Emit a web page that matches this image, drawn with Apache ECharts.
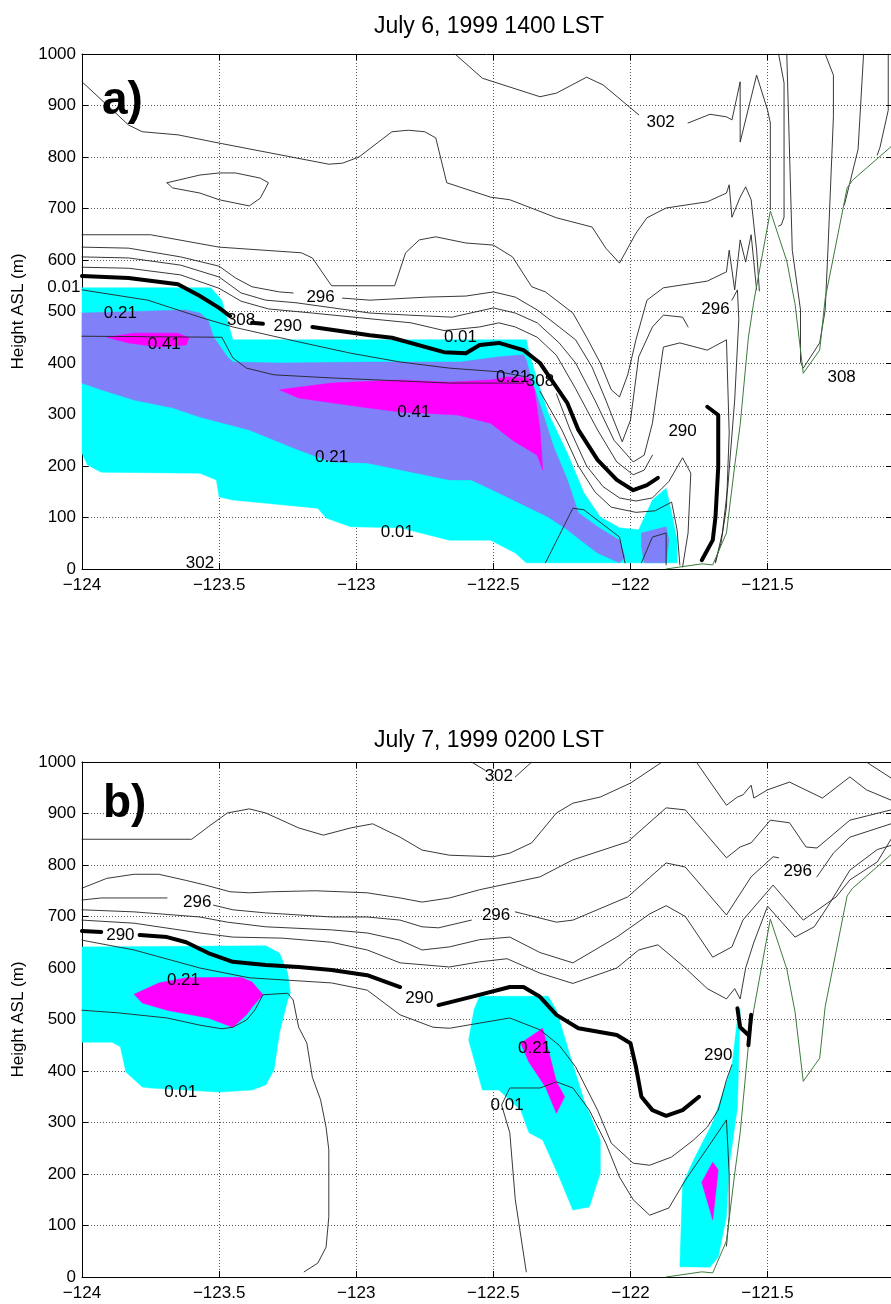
<!DOCTYPE html>
<html>
<head>
<meta charset="utf-8">
<script src="https://cdn.jsdelivr.net/npm/echarts@6/dist/echarts.min.js"></script>
<style>
html,body{margin:0;padding:0;background:#fff;}
#chart{width:891px;height:1304px;}
</style>
</head>
<body>
<div id="chart"></div>
<script>
// ---------------- DATA (longitude, height ASL in m) ----------------
var titles = ['July 6, 1999 1400 LST', 'July 7, 1999 0200 LST'];
var panelTags = ['a)', 'b)'];
var xTicks = [-124, -123.5, -123, -122.5, -122, -121.5];
var yTicks = [0, 100, 200, 300, 400, 500, 600, 700, 800, 900, 1000];

// terrain profile (same cross-section in both panels)
var terrain = [[-121.87,0],[-121.74,10],[-121.70,8],[-121.65,70],[-121.62,200],[-121.60,280],[-121.57,450],[-121.55,520],[-121.49,695],[-121.43,598],[-121.40,515],[-121.37,380],[-121.31,425],[-121.29,525],[-121.21,740],[-121.19,755],[-121.05,820]];

// ---- panel a: filled regions ----
var aCyan = [[-124.00,546],[-123.53,546],[-123.49,522],[-123.45,445],[-122.38,445],[-122.37,421],[-122.34,367],[-122.30,303],[-122.23,225],[-122.17,148],[-122.11,101],[-122.04,80],[-121.97,76],[-121.92,134],[-121.87,157],[-121.85,109],[-121.83,56],[-121.83,12],[-122.38,12],[-122.42,31],[-122.51,56],[-122.66,56],[-122.84,80],[-123.02,82],[-123.11,99],[-123.14,118],[-123.45,134],[-123.50,140],[-123.51,173],[-123.57,186],[-123.93,188],[-123.98,202],[-124.00,225]];
var aPurple = [[-124.00,497],[-123.62,503],[-123.57,497],[-123.54,483],[-123.52,450],[-123.47,412],[-123.45,402],[-123.28,400],[-122.95,402],[-122.62,402],[-122.48,412],[-122.39,416],[-122.38,406],[-122.36,367],[-122.32,303],[-122.28,237],[-122.23,173],[-122.19,109],[-122.12,82],[-122.04,56],[-122.02,23],[-122.04,12],[-122.12,31],[-122.16,47],[-122.23,76],[-122.30,101],[-122.45,140],[-122.58,173],[-122.66,173],[-122.96,206],[-123.09,208],[-123.21,231],[-123.39,270],[-123.57,295],[-123.67,313],[-123.81,328],[-123.93,348],[-124.00,361]];
var aPurple2 = [[-121.96,43],[-121.96,70],[-121.87,82],[-121.86,56],[-121.87,12],[-121.95,12]];
var aMag1 = [[-123.91,450],[-123.81,458],[-123.65,458],[-123.61,449],[-123.62,435],[-123.72,431],[-123.83,439]];
var aMag2 = [[-123.28,348],[-123.09,361],[-122.84,367],[-122.66,363],[-122.51,367],[-122.45,373],[-122.37,371],[-122.35,348],[-122.33,270],[-122.32,192],[-122.34,221],[-122.43,250],[-122.51,283],[-122.63,299],[-122.84,305],[-122.96,313],[-123.21,332]];

// ---- panel a: contour lines (null = break for a label) ----
var a302 = [[-122.64,1000],[-122.54,953],[-122.33,917],[-122.27,924],[-122.16,955],[-122.10,940],[-121.97,882],null,[-121.79,866],[-121.71,883],[-121.65,878],[-121.63,872],[-121.60,946],[-121.60,829],[-121.54,959],[-121.50,891],[-121.49,866],[-121.49,698]];
var aT1 = [[-124.00,946],[-123.83,862],[-123.78,849],[-123.65,843],[-123.50,827],[-123.10,786],[-123.05,788],[-122.99,800],[-122.87,849],[-122.81,852],[-122.75,849],[-122.71,837],[-122.67,750],[-122.51,722],[-122.44,717],[-122.27,682],[-122.14,664],[-122.09,623],[-122.04,594],[-121.98,652],[-121.94,682],[-121.87,701],[-121.72,713],[-121.65,730],[-121.64,746],[-121.63,683],[-121.60,722],[-121.58,742],[-121.56,717],[-121.54,619],[-121.53,540]];
var aLoop = [[-123.69,750],[-123.67,740],[-123.57,730],[-123.50,717],[-123.39,705],[-123.35,720],[-123.33,740],[-123.32,750],[-123.35,759],[-123.44,769],[-123.50,769],[-123.57,765],[-123.69,750]];
var aTA = [[-124.00,649],[-123.75,649],[-123.50,625],[-123.20,614],[-123.16,604],[-123.09,550],[-122.86,550],[-122.82,614],[-122.77,639],[-122.71,645],[-122.60,633],[-122.50,629],[-122.43,606],[-122.36,548],[-122.31,538],[-122.21,497],[-122.16,450],[-122.11,400],[-122.07,348],[-122.04,334],[-122.01,377],[-121.98,445],[-121.94,522],[-121.88,546],[-121.72,559],[-121.65,577],[-121.64,619],[-121.62,542],[-121.60,639],[-121.58,596],[-121.56,649],[-121.54,542]];
var aTB = [[-124.00,625],[-123.83,623],[-123.64,606],[-123.50,588],[-123.44,565],[-123.38,548],[-123.28,538],[-123.23,536],null,[-123.05,526],[-122.95,522],[-122.74,528],[-122.60,530],[-122.50,538],[-122.42,528],[-122.34,503],[-122.26,470],[-122.20,445],[-122.14,392],[-122.09,328],[-122.03,247],[-122.00,289],[-121.97,412],[-121.92,470],[-121.88,493],[-121.81,489],[-121.79,470]];
var a296b = [[-121.63,522],[-121.61,542],[-121.605,484],[-121.62,328],[-121.645,160],[-121.665,70],[-121.69,12]];
var aTC = [[-124.00,606],[-123.83,604],[-123.64,590],[-123.50,567],[-123.42,536],[-123.33,522],[-123.22,517],[-122.95,497],[-122.81,493],[-122.65,489],[-122.50,507],[-122.42,497],[-122.34,478],[-122.26,439],[-122.20,400],[-122.13,328],[-122.06,250],[-121.99,208],[-121.95,221],[-121.92,283],[-121.88,431],[-121.82,439],[-121.72,425],[-121.65,445],[-121.64,264],[-121.65,120],[-121.67,50],[-121.69,15]];
var aTD = [[-124.00,586],[-123.83,584],[-123.64,571],[-123.50,545],[-123.42,520],[-123.32,505],[-123.16,497],[-122.99,488],[-122.80,478],[-122.68,463],[-122.55,470],[-122.48,478],[-122.42,470],[-122.34,450],[-122.27,415],[-122.20,350],[-122.12,270],[-122.05,208],[-121.99,183],[-121.95,192],[-121.92,221]];
var aTE = [[-124.00,542],[-123.76,522],[-123.57,489],[-123.45,470],[-123.21,441],[-123.02,419],[-122.84,402],[-122.66,390],[-122.48,383],[-122.38,373],null,[-122.27,340],[-122.22,270],[-122.16,200],[-122.10,160],[-122.04,138],[-121.98,132],[-121.92,138],[-121.86,170],[-121.81,216],[-121.78,186],[-121.79,70],[-121.81,4]];
var aTF = [[-122.33,345],[-122.25,270],[-122.19,200],[-122.13,150],[-122.07,120],[-121.98,110],[-121.91,113],[-121.85,130],[-121.83,76],[-121.82,8]];
var aTG = [[-124.00,452],[-123.49,450],[-123.45,410],[-123.40,390],[-123.30,377],[-123.09,371],[-122.66,361],[-122.39,361]];
var aArch1 = [[-122.31,12],[-122.21,118],[-122.17,115],[-122.04,62],[-122.02,12]];
var aArch2 = [[-121.96,12],[-121.92,62],[-121.87,70],[-121.87,8]];
var aR1 = [[-121.46,1000],[-121.44,944],[-121.44,683],[-121.45,668],[-121.46,666]];
var aR2 = [[-121.43,1000],[-121.41,619],[-121.38,503],[-121.38,402],[-121.37,390],[-121.31,439],[-121.29,503],[-121.28,619],[-121.26,878],[-121.26,959],[-121.29,1000]];
var aR4 = [[-121.15,1000],[-121.17,815],[-121.20,750],[-121.22,707]];
var aR5 = [[-121.06,1000],[-121.06,891],[-121.09,819],[-121.10,804]];
var aThick = [[-124.00,569],[-123.83,565],[-123.65,553],[-123.57,530],[-123.50,507],[-123.46,491],null,[-123.38,478],[-123.34,476],null,[-123.16,470],[-122.95,454],[-122.87,449],[-122.68,421],[-122.60,419],[-122.55,435],[-122.48,439],[-122.39,425],[-122.33,400],[-122.28,361],[-122.23,322],[-122.19,270],[-122.12,212],[-122.05,173],[-121.99,153],[-121.94,163],[-121.90,177],null,[-121.72,315],[-121.68,299],[-121.68,264],[-121.68,198],[-121.69,101],[-121.70,56],[-121.74,17]];
var aLabels = [['302',-121.89,868],['296',-123.13,528],['290',-123.25,472],['308',-123.42,483],['0.01',-122.62,449],['0.21',-122.43,373],['308',-122.33,365],['0.21',-123.86,497],['0.41',-123.70,437],['0.41',-122.79,305],['0.21',-123.09,216],['0.01',-122.85,72],['302',-123.57,12],['296',-121.69,504],['290',-121.81,268],['308',-121.23,373],['0.01',-124.066,546]];

// ---- panel b: filled regions ----
var bCyan1 = [[-124.00,641],[-123.33,643],[-123.28,629],[-123.25,590],[-123.24,551],[-123.25,538],[-123.28,474],[-123.30,402],[-123.33,373],[-123.38,363],[-123.50,359],[-123.75,367],[-123.78,369],[-123.84,398],[-123.86,447],[-123.89,456],[-124.00,456]];
var bMag1 = [[-123.81,549],[-123.72,571],[-123.62,581],[-123.42,582],[-123.38,573],[-123.34,548],[-123.38,524],[-123.40,509],[-123.45,485],[-123.47,489],[-123.54,503],[-123.69,518],[-123.78,532]];
var bCyan2 = [[-122.55,545],[-122.30,545],[-122.27,518],[-122.23,447],[-122.17,344],[-122.11,266],[-122.11,202],[-122.15,136],[-122.21,130],[-122.26,194],[-122.32,266],[-122.37,280],[-122.40,324],[-122.48,363],[-122.54,363],[-122.56,402],[-122.59,460],[-122.57,520]];
var bMag2 = [[-122.40,454],[-122.32,483],[-122.27,379],[-122.24,350],[-122.27,318],[-122.31,369],[-122.37,417]];
var bCyan3 = [[-121.82,20],[-121.81,180],[-121.77,227],[-121.70,300],[-121.63,410],[-121.61,500],[-121.60,520],[-121.61,330],[-121.64,214],[-121.65,117],[-121.68,39],[-121.71,19]];
var bMag3 = [[-121.70,223],[-121.68,208],[-121.70,111],[-121.74,184]];

// ---- panel b: contour lines ----
var b302 = [[-122.58,1000],[-122.53,984],null,[-122.42,971],[-122.36,1000]];
var bB1 = [[-124.00,850],[-123.60,850],[-123.54,874],[-123.47,901],[-123.39,909],[-123.33,901],[-123.21,872],[-123.12,858],[-123.02,872],[-122.94,880],[-122.84,854],[-122.76,829],[-122.66,819],[-122.50,816],[-122.44,823],[-122.36,843],[-122.27,901],[-122.21,920],[-122.11,932],[-122.00,959],[-121.89,998]];
var bTR1 = [[-121.76,1000],[-121.65,916],[-121.61,932],[-121.59,936],[-121.56,955],[-121.55,930],[-121.50,946],[-121.42,961],[-121.30,930],[-121.20,971],[-121.14,946],[-121.05,926]];
var bTR2 = [[-121.14,1000],[-121.05,969]];
var bB2 = [[-124.00,755],[-123.91,774],[-123.81,782],[-123.72,782],[-123.62,770],[-123.55,761],[-123.46,748],[-123.39,746],[-123.31,748],[-123.15,750],[-122.96,746],[-122.84,736],[-122.76,728],[-122.66,736],[-122.55,752],[-122.33,777],[-122.21,810],[-122.01,845],[-121.87,911],[-121.80,907],[-121.65,814],[-121.60,835],[-121.56,843],[-121.49,887],[-121.42,882],[-121.36,835],[-121.32,833],[-121.20,887],[-121.05,907]];
var bB3 = [[-124.00,732],[-123.93,736],[-123.69,736],null,[-123.52,722],[-123.45,713],[-123.33,707],[-123.09,699],[-122.96,699],[-122.84,693],[-122.76,680],[-122.70,678],[-122.58,693],null,[-122.42,709],[-122.27,689],[-122.21,693],[-122.01,738],[-121.87,804],[-121.80,796],[-121.65,703],[-121.56,777],[-121.48,816],[-121.46,814],null,[-121.32,777],[-121.26,823],[-121.20,854],[-121.05,880]];
var bB4 = [[-124.00,713],[-123.81,709],[-123.57,699],[-123.47,689],[-123.33,680],[-123.09,674],[-122.96,668],[-122.84,654],[-122.76,635],[-122.66,641],[-122.55,655],[-122.44,660],[-122.33,630],[-122.21,610],[-122.05,660],[-121.93,705],[-121.87,721],[-121.80,700],[-121.70,621],[-121.63,641],[-121.59,693],[-121.48,761],[-121.37,693],[-121.25,738],[-121.20,771],[-121.10,806],[-121.05,850]];
var bB5 = [[-124.00,693],[-123.81,687],[-123.57,668],[-123.45,660],[-123.27,658],[-123.09,650],[-122.96,635],[-122.84,610],[-122.66,602],[-122.55,612],[-122.45,618],[-122.33,590],[-122.21,570],[-122.05,600],[-121.97,635],[-121.90,645],[-121.80,600],[-121.72,560],[-121.65,540],[-121.62,560],[-121.60,540],[-121.58,600],[-121.55,650],[-121.50,720],[-121.45,690],[-121.40,660],[-121.33,680],[-121.28,720],[-121.20,790],[-121.10,830],[-121.05,838]];
var bB6 = [[-124.00,654],[-123.81,635],[-123.57,600],[-123.39,581],[-123.27,577],[-123.09,571],[-122.96,557],[-122.84,509],[-122.72,485],[-122.66,483],[-122.55,493],[-122.44,503],[-122.33,480],[-122.26,450],[-122.20,408],[-122.12,324],[-122.07,260],[-121.99,221],[-121.93,217],[-121.85,233],[-121.77,266],[-121.72,291],[-121.68,324],[-121.65,383],[-121.63,412]];
var bV2 = [[-122.38,10],[-122.42,150],[-122.44,280],[-122.47,334],[-122.44,367],[-122.33,367],[-122.27,379],[-122.21,367],[-122.15,324],[-122.09,260],[-122.04,194],[-121.99,150],[-121.93,120],[-121.86,134],[-121.80,188],[-121.72,250],[-121.65,305],[-121.64,200],[-121.64,117],[-121.65,60]];
var bB7 = [[-124.00,518],[-123.87,513],[-123.69,503],[-123.57,489],[-123.49,482],[-123.45,485],[-123.40,499],[-123.37,518],[-123.34,548],[-123.25,551],[-123.23,538],[-123.21,485],[-123.18,454],[-123.16,388],[-123.13,344],[-123.11,291],[-123.10,247],[-123.10,183],[-123.10,117],[-123.11,58],[-123.14,27],[-123.19,10]];
var bThick = [[-124.00,672],[-123.93,670],null,[-123.79,664],[-123.69,660],[-123.62,650],[-123.54,629],[-123.45,612],[-123.33,606],[-123.21,602],[-123.09,596],[-122.96,586],[-122.84,563],null,[-122.70,528],[-122.58,544],[-122.44,563],[-122.39,563],[-122.33,544],[-122.27,509],[-122.19,483],[-122.05,470],[-122.00,454],[-121.98,408],[-121.96,350],[-121.92,324],[-121.87,313],[-121.81,324],[-121.75,350],null,[-121.61,522],[-121.60,485],[-121.57,470],null,[-121.56,509],[-121.57,450]];
var bLabels = [['302',-122.48,973],['296',-123.58,728],['296',-122.49,703],['296',-121.39,788],['290',-123.86,664],['290',-122.77,542],['290',-121.68,431],['0.21',-123.63,577],['0.01',-123.64,359],['0.21',-122.35,445],['0.01',-122.45,334]];

// ---------------- CHART ----------------
var FONT = 'Liberation Sans, Arial, Helvetica, sans-serif';
var chart = echarts.init(document.getElementById('chart'), null, {renderer: 'canvas'});
var grids = [{left: 82, right: 0, top: 54, height: 515}, {left: 82, right: 0, top: 762, height: 515}];
var xAxes = [], yAxes = [], series = [];

function fmtX(v) {
  if (Math.abs(v * 2 - Math.round(v * 2)) > 1e-6) return '';
  return (v < 0 ? '\u2212' : '') + Math.abs(v);
}
function fmtY(v) { return String(v); }
grids.forEach(function (g, gi) {
  xAxes.push({gridIndex: gi, type: 'value', min: -124, max: -121.05, interval: 0.5, position: 'bottom',
    axisLine: {show: true, onZero: false, lineStyle: {color: '#000', width: 1}},
    axisTick: {show: true, inside: true, length: 6, lineStyle: {color: '#000'}},
    axisLabel: {show: true, color: '#000', fontSize: 17, fontFamily: FONT, margin: 8, formatter: fmtX, showMaxLabel: false},
    splitLine: {show: true, lineStyle: {color: '#555', type: [1, 2], width: 1}}});
  xAxes.push({gridIndex: gi, type: 'value', min: -124, max: -121.05, interval: 0.5, position: 'top',
    axisLine: {show: true, onZero: false, lineStyle: {color: '#000', width: 1}},
    axisTick: {show: true, inside: true, length: 6, lineStyle: {color: '#000'}},
    axisLabel: {show: false}, splitLine: {show: false}});
  yAxes.push({gridIndex: gi, type: 'value', min: 0, max: 1000, interval: 100, position: 'left',
    name: 'Height ASL (m)', nameLocation: 'middle', nameGap: 47,
    nameTextStyle: {color: '#000', fontSize: 17, fontFamily: FONT},
    axisLine: {show: true, onZero: false, lineStyle: {color: '#000', width: 1}},
    axisTick: {show: true, inside: true, length: 6, lineStyle: {color: '#000'}},
    axisLabel: {show: true, color: '#000', fontSize: 17, fontFamily: FONT, margin: 6, formatter: fmtY},
    splitLine: {show: true, lineStyle: {color: '#555', type: [1, 2], width: 1}}});
  yAxes.push({gridIndex: gi, type: 'value', min: 0, max: 1000, interval: 100, position: 'right',
    axisLine: {show: false}, axisTick: {show: true, inside: true, length: 5, lineStyle: {color: '#000'}},
    axisLabel: {show: false}, splitLine: {show: false}});
});

function polygon(points, color, gi) {
  series.push({type: 'custom', xAxisIndex: gi * 2, yAxisIndex: gi * 2, z: 1, silent: true, animation: false,
    data: points,
    renderItem: function (params, api) {
      if (params.dataIndex !== 0) return null;
      var pts = points.map(function (p) { return api.coord(p); });
      return {type: 'polygon', shape: {points: pts}, style: {fill: color, stroke: color, lineWidth: 0.5}};
    }});
}
function contour(arr, color, width, gi, z) {
  var seg = [];
  var flush = function () {
    if (seg.length > 1) {
      series.push({type: 'line', xAxisIndex: gi * 2, yAxisIndex: gi * 2, data: seg, symbol: 'none', showSymbol: false,
        silent: true, animation: false, z: z || 3, lineStyle: {color: color, width: width, cap: 'round', join: 'round'}});
    }
    seg = [];
  };
  arr.forEach(function (p) { if (p === null) flush(); else seg.push(p); });
  flush();
}
function labels(list, gi) {
  series.push({type: 'custom', xAxisIndex: gi * 2, yAxisIndex: gi * 2, z: 6, silent: true, animation: false, clip: false,
    data: list.map(function (l) { return [l[1], l[2]]; }),
    renderItem: function (params, api) {
      var l = list[params.dataIndex];
      var p = api.coord([l[1], l[2]]);
      return {type: 'text', x: p[0], y: p[1], style: {text: l[0], fill: '#000', font: '17px ' + FONT, textAlign: 'center', textVerticalAlign: 'middle'}};
    }});
}

var THIN = '#222', GREEN = '#3d7a3d', CYAN = '#00ffff', PURPLE = '#8080f8', MAG = '#ff00ff';
// panel a
polygon(aCyan, CYAN, 0); polygon(aPurple, PURPLE, 0); polygon(aPurple2, PURPLE, 0);
polygon(aMag1, MAG, 0); polygon(aMag2, MAG, 0);
[a302, aT1, aLoop, aTA, aTB, a296b, aTC, aTD, aTE, aTF, aTG, aArch1, aArch2, aR1, aR2, aR4, aR5].forEach(function (l) { contour(l, THIN, 0.9, 0); });
contour(terrain, GREEN, 1, 0, 4);
contour(aThick, '#000', 4, 0, 5);
labels(aLabels, 0);
// panel b
polygon(bCyan1, CYAN, 1); polygon(bMag1, MAG, 1); polygon(bCyan2, CYAN, 1); polygon(bMag2, MAG, 1);
polygon(bCyan3, CYAN, 1); polygon(bMag3, MAG, 1);
[b302, bB1, bTR1, bTR2, bB2, bB3, bB4, bB5, bB6, bV2, bB7].forEach(function (l) { contour(l, THIN, 0.9, 1); });
contour(terrain, GREEN, 1, 1, 4);
contour(bThick, '#000', 4, 1, 5);
labels(bLabels, 1);

chart.setOption({
  animation: false,
  title: [
    {text: titles[0], left: 484, top: 10, textAlign: 'center', textStyle: {fontSize: 23, fontWeight: 'normal', color: '#000', fontFamily: FONT}},
    {text: titles[1], left: 484, top: 724, textAlign: 'center', textStyle: {fontSize: 23, fontWeight: 'normal', color: '#000', fontFamily: FONT}}
  ],
  grid: grids,
  xAxis: xAxes,
  yAxis: yAxes,
  graphic: [
    {type: 'text', left: 102, top: 78, z: 10, style: {text: panelTags[0], font: 'bold 46px ' + FONT, fill: '#000'}},
    {type: 'text', left: 103, top: 781, z: 10, style: {text: panelTags[1], font: 'bold 46px ' + FONT, fill: '#000'}}
  ],
  series: series
});
</script>
</body>
</html>
